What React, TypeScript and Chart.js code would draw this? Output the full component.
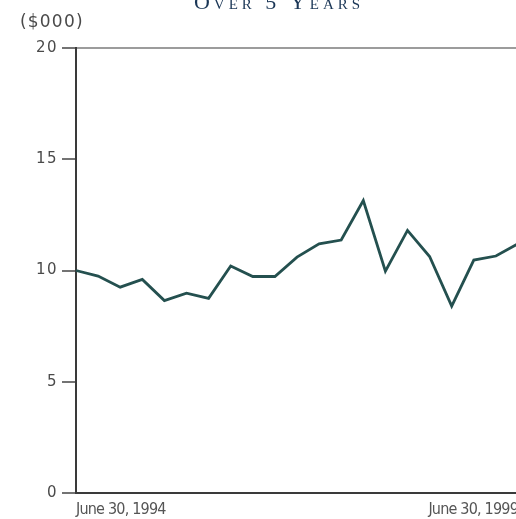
import React, { useEffect, useRef } from 'react';
import { Chart, registerables } from 'chart.js';

Chart.register(...registerables);

const categories = [
  'June 30, 1994', 'Sept. 30, 1994', 'Dec. 31, 1994', 'Mar. 31, 1995',
  'June 30, 1995', 'Sept. 30, 1995', 'Dec. 31, 1995', 'Mar. 31, 1996',
  'June 30, 1996', 'Sept. 30, 1996', 'Dec. 31, 1996', 'Mar. 31, 1997',
  'June 30, 1997', 'Sept. 30, 1997', 'Dec. 31, 1997', 'Mar. 31, 1998',
  'June 30, 1998', 'Sept. 30, 1998', 'Dec. 31, 1998', 'Mar. 31, 1999',
  'June 30, 1999',
];
const values = [
  10.0, 9.75, 9.25, 9.6, 8.65, 8.98, 8.75, 10.2, 9.73, 9.73, 10.6,
  11.2, 11.37, 13.14, 9.97, 11.8, 10.63, 8.4, 10.47, 10.65, 11.2,
];
const yTicks = [0, 5, 10, 15, 20];
const titleText = 'Over 5 Years';
const unitLabel = '($000)';

const textPlugin = {
  id: 'extraText',
  beforeDraw(chart: any) {
    (chart.ctx as any).letterSpacing = '1.5px';
  },
  beforeDatasetsDraw(chart: any) {
    (chart.ctx as any).letterSpacing = '-0.8px';
  },
  afterDraw(chart: any) {
    const ctx = chart.ctx as any;
    ctx.save();
    ctx.letterSpacing = '4px';
    ctx.font = 'small-caps 22px "Liberation Serif", serif';
    ctx.fontVariantCaps = 'small-caps';
    ctx.fillStyle = '#1a3656';
    ctx.textAlign = 'center';
    ctx.textBaseline = 'alphabetic';
    ctx.fillText(titleText, 279, 9);
    ctx.fontVariantCaps = 'normal';
    ctx.letterSpacing = '1.2px';
    ctx.font = '17px "DejaVu Sans", sans-serif';
    ctx.fillStyle = '#4a4a4a';
    ctx.textAlign = 'left';
    ctx.fillText(unitLabel, 20, 27);
    ctx.restore();
  },
};

export default function App() {
  const ref = useRef<HTMLCanvasElement | null>(null);

  useEffect(() => {
    const canvas = ref.current;
    if (!canvas) return;
    const chart = new Chart(canvas, {
      type: 'line',
      data: {
        labels: categories,
        datasets: [
          {
            data: values,
            borderColor: '#24504f',
            borderWidth: 2.8,
            pointRadius: 0,
            tension: 0,
            fill: false,
          },
        ],
      },
      options: {
        animation: false,
        responsive: false,
        devicePixelRatio: 1,
        layout: { padding: { top: 48, right: 12, left: 0, bottom: 0 } },
        plugins: {
          legend: { display: false },
          title: { display: false },
          tooltip: { enabled: false },
        },
        scales: {
          x: {
            type: 'category',
            offset: false,
            grid: { display: false, drawTicks: false },
            border: { display: true, color: '#3a3a3a', width: 2 },
            ticks: {
              z: 1,
              autoSkip: false,
              maxRotation: 0,
              minRotation: 0,
              align: 'inner',
              padding: 7,
              color: '#555',
              font: { family: '"DejaVu Sans Condensed", sans-serif', size: 16 },
              callback: (_v: any, i: number) =>
                i === 0 || i === categories.length - 1 ? categories[i] : '',
            },
            afterFit: (s: any) => {
              s.height = 26;
            },
          },
          y: {
            min: 0,
            max: 20,
            afterBuildTicks: (s: any) => {
              s.ticks = yTicks.map((v) => ({ value: v }));
            },
            grid: {
              drawTicks: true,
              tickLength: 14,
              lineWidth: 2,
              tickWidth: 1.5,
              tickColor: '#444',
              color: (c: any) => (c.tick && c.tick.value === 20 ? '#9c9c9c' : 'rgba(0,0,0,0)'),
            },
            border: { display: true, color: '#3a3a3a', width: 2 },
            ticks: {
              padding: 4,
              color: '#4a4a4a',
              font: { family: '"DejaVu Sans", sans-serif', size: 15 },
            },
            afterFit: (s: any) => {
              s.width = 76;
            },
          },
        },
      },
      plugins: [textPlugin],
    });
    return () => chart.destroy();
  }, []);

  return (
    <div
      style={{
        position: 'fixed',
        left: 0,
        top: 0,
        width: 516,
        height: 519,
        overflow: 'hidden',
        background: '#fff',
      }}
    >
      <canvas ref={ref} width={530} height={519} style={{ display: 'block', width: 530, height: 519 }} />
    </div>
  );
}
